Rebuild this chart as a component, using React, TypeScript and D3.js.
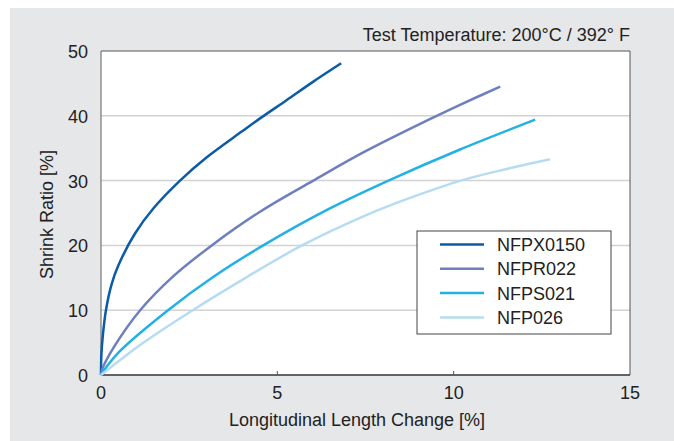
import React from 'react';
import * as d3 from 'd3';

// Values (x: length change %, y: shrink ratio %)
const seriesNames = ['NFPX0150', 'NFPR022', 'NFPS021', 'NFP026'];
const seriesColors = ['#0b5ba6', '#6e7fbf', '#22b1e4', '#b6dcf1'];

const nfpx0150: [number, number][] = [
    [0, 0], [0.01, 3], [0.05, 6], [0.14, 10], [0.3, 14], [0.5, 17], [0.96, 21.8],
    [1.5, 25.8], [2.24, 30], [3, 33.6], [4, 37.6], [4.51, 39.6], [5.26, 42.4], [6, 45.2],
    [6.81, 48.1]
];
const nfpr022: [number, number][] = [
    [0, 0], [0.05, 1.1], [0.4, 4.6], [1.11, 10], [2, 15], [3.14, 20], [4.51, 25.2],
    [6.02, 30], [7.49, 34.5], [9.52, 40], [10.18, 41.7], [11.32, 44.5]
];
const nfps021: [number, number][] = [
    [0, 0], [0.15, 1.2], [0.5, 3.5], [1.9, 10], [3.2, 15.2], [4.6, 20], [6.49, 25.7],
    [8.15, 30], [10.18, 34.8], [12.31, 39.4]
];
const nfp026: [number, number][] = [
    [0, 0], [1.1, 4.6], [2.6, 10], [4.1, 15], [5.7, 20], [7.49, 24.6], [8.8, 27.4],
    [10.2, 30], [11.5, 31.8], [12.73, 33.3]
];
const seriesData = [nfpx0150, nfpr022, nfps021, nfp026];

const xTicks = [0, 5, 10, 15];
const yTicks = [0, 10, 20, 30, 40, 50];

const title = 'Test Temperature: 200°C / 392° F';
const xLabel = 'Longitudinal Length Change [%]';
const yLabel = 'Shrink Ratio [%]';

const width = 674;
const height = 441;
const plot = { left: 101, right: 630, top: 51, bottom: 375 };
const font = '"Liberation Sans", Arial, Helvetica, sans-serif';

const App: React.FC = () => {
    const x = d3.scaleLinear().domain([0, 15]).range([plot.left, plot.right]);
    const y = d3.scaleLinear().domain([0, 50]).range([plot.bottom, plot.top]);

    const line = d3.line<[number, number]>()
        .x(d => x(d[0]))
        .y(d => y(d[1]))
        .curve(d3.curveCatmullRom.alpha(0.5));

    const legend = { x: 417, y: 231, w: 194, h: 103 };

    return (
        <svg
            width={width}
            height={height}
            style={{ position: 'absolute', left: 0, top: 0, fontFamily: font }}
        >
            <rect x={10} y={8} width={width - 10} height={height - 8} fill="#e6e7e9" />
            <rect
                x={plot.left}
                y={plot.top}
                width={plot.right - plot.left}
                height={plot.bottom - plot.top}
                fill="#ffffff"
            />

            {/* grid */}
            {yTicks.filter(t => t > 0 && t < 50).map(t => (
                <line key={t} x1={plot.left} x2={plot.right} y1={y(t)} y2={y(t)}
                    stroke="#d2d2d2" strokeWidth={1.5} />
            ))}

            {/* frame */}
            <line x1={plot.left} x2={plot.right} y1={plot.top} y2={plot.top} stroke="#555" strokeWidth={1} />
            <line x1={plot.right} x2={plot.right} y1={plot.top} y2={plot.bottom} stroke="#555" strokeWidth={1} />
            <line x1={plot.left} x2={plot.left} y1={plot.top} y2={plot.bottom} stroke="#777" strokeWidth={1.2} />
            <line x1={plot.left} x2={plot.right} y1={plot.bottom} y2={plot.bottom} stroke="#333" strokeWidth={1.3} />
            {xTicks.filter(t => t > 0 && t < 15).map(t => (
                <line key={t} x1={x(t)} x2={x(t)} y1={plot.bottom} y2={plot.bottom - 4} stroke="#555" />
            ))}

            {/* curves */}
            {seriesData.map((d, i) => (
                <path key={seriesNames[i]} d={line(d) || ''} fill="none"
                    stroke={seriesColors[i]} strokeWidth={2.5} strokeLinecap="butt" />
            ))}

            {/* tick labels */}
            {yTicks.map(t => (
                <text key={t} x={88} y={y(t) + 7} textAnchor="end" fontSize={18} fill="#222">{t}</text>
            ))}
            {xTicks.map(t => (
                <text key={t} x={x(t)} y={399} textAnchor="middle" fontSize={18} fill="#222">{t}</text>
            ))}

            <text x={357} y={426} textAnchor="middle" fontSize={18} fill="#222">{xLabel}</text>
            <text transform="translate(53,214.5) rotate(-90)" textAnchor="middle" fontSize={18} fill="#222">{yLabel}</text>
            <text x={630} y={41} textAnchor="end" fontSize={18} fill="#222">{title}</text>

            {/* legend */}
            <rect x={legend.x} y={legend.y} width={legend.w} height={legend.h}
                fill="#ffffff" stroke="#444" strokeWidth={1} />
            {seriesNames.map((name, i) => {
                const ly = 244.5 + i * 24.3;
                return (
                    <g key={name}>
                        <line x1={440} x2={484} y1={ly} y2={ly} stroke={seriesColors[i]} strokeWidth={2.5} />
                        <text x={497} y={ly + 6.5} fontSize={18} fill="#222">{name}</text>
                    </g>
                );
            })}
        </svg>
    );
};

export default App;
